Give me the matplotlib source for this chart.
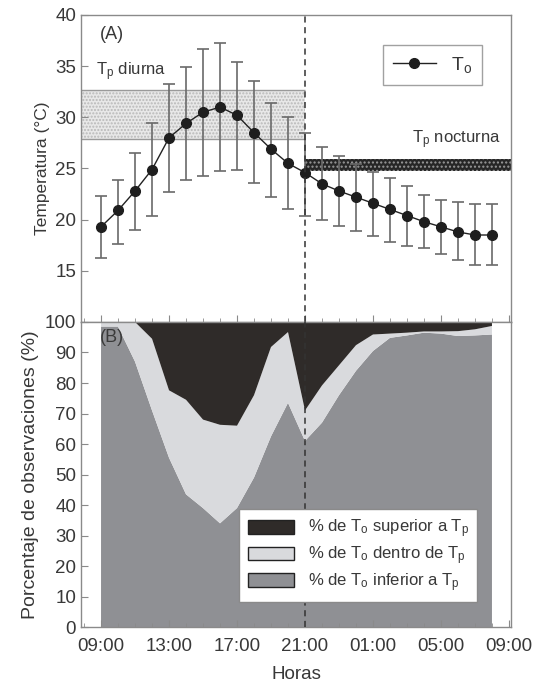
import matplotlib
matplotlib.use("Agg")
import matplotlib.pyplot as plt
from matplotlib.patches import Patch
from matplotlib.ticker import MultipleLocator
import numpy as np

plt.rcParams['font.family'] = ['Liberation Sans', 'DejaVu Sans']
plt.rcParams['mathtext.default'] = 'regular'

# hours from 09:00 to 08:00 next day
hours = list(range(9, 33))
tick_hours = [9, 13, 17, 21, 25, 29, 33]
tick_labels = ["09:00", "13:00", "17:00", "21:00", "01:00", "05:00", "09:00"]

# (A) observed temperature, with upper/lower ends of error bars
temp = [19.3, 20.9, 22.8, 24.9, 28.0, 29.4, 30.5, 31.0, 30.2, 28.5, 26.9, 25.5, 24.6,
        23.5, 22.8, 22.2, 21.6, 21.0, 20.4, 19.8, 19.3, 18.8, 18.5, 18.5]
temp_hi = [22.3, 23.9, 26.5, 29.4, 33.3, 34.9, 36.7, 37.3, 35.4, 33.5, 31.4, 30.0, 28.5,
           27.1, 26.2, 25.4, 24.7, 24.1, 23.3, 22.4, 21.9, 21.7, 21.5, 21.5]
temp_lo = [16.3, 17.6, 19.0, 20.4, 22.7, 23.9, 24.3, 24.8, 24.9, 23.6, 22.2, 21.0, 20.4,
           20.0, 19.4, 18.9, 18.4, 17.8, 17.4, 17.2, 16.6, 16.1, 15.6, 15.6]
tp_diurna = (27.9, 32.7)
tp_nocturna = (24.8, 25.9)
split_hour = 21

# (B) percentages
inferior = [98.5, 98.5, 87, 71, 55.5, 43.5, 39, 34, 39, 49, 62.5, 73.5, 61,
            67, 76, 84, 90.5, 94.8, 95.6, 96.5, 96.2, 95.4, 95.6, 95.9]
dentro = [1.5, 1.5, 13, 23.5, 22.1, 31, 29, 32.3, 27, 27, 29.3, 23.2, 10,
          12.2, 9.8, 8.4, 5.4, 1.4, 0.9, 0.4, 0.7, 1.6, 2.0, 2.8]
superior = [0, 0, 0, 5.5, 22.4, 25.5, 32, 33.7, 34, 24, 8.2, 3.3, 29,
            20.8, 14.2, 7.6, 4.1, 3.8, 3.5, 3.1, 3.1, 3.0, 2.4, 1.3]

spine_c = '#8a8a8a'
text_c = '#383838'
c_sup = '#2f2b29'
c_den = '#d9dadd'
c_inf = '#8f9094'

fig = plt.figure(figsize=(5.42, 6.87), dpi=100)
ax1 = fig.add_axes([0.1494, 0.5313, 0.7934, 0.4469])
ax2 = fig.add_axes([0.1494, 0.0873, 0.7934, 0.4440])
xlim = (7.82, 33.12)

for ax in (ax1, ax2):
    ax.set_xlim(xlim)
    ax.set_xticks(tick_hours)
    ax.xaxis.set_minor_locator(MultipleLocator(1))
    ax.tick_params(which='both', direction='in', colors=spine_c, labelcolor=text_c,
                   labelsize=13.5, top=False, right=False)
    ax.tick_params(which='major', length=5)
    ax.tick_params(which='minor', length=3)
    for s in ax.spines.values():
        s.set_color(spine_c)
        s.set_linewidth(1.0)

# ---- panel A
ax1.set_ylim(10, 40)
ax1.set_yticks([15, 20, 25, 30, 35, 40])
ax1.set_xticklabels([])
ax1.fill_between([xlim[0], split_hour], tp_diurna[0], tp_diurna[1],
                 facecolor='#e8e8e8', edgecolor='#b8b8b8', hatch='.....', linewidth=0)
ax1.hlines(tp_diurna, xlim[0], split_hour, colors='#9a9a9a', linewidth=1.0)
ax1.fill_between([split_hour, xlim[1]], tp_nocturna[0], tp_nocturna[1],
                 facecolor='#262626', edgecolor='#9a9a9a', hatch='....', linewidth=0)

t = np.array(temp)
yerr = [t - np.array(temp_lo), np.array(temp_hi) - t]
ax1.errorbar(hours, temp, yerr=yerr, fmt='none', ecolor='#6a6a6a', elinewidth=1.2,
             capsize=4, capthick=1.2, zorder=3)
ax1.plot(hours, temp, '-o', color='#222222', lw=1.0, markersize=7,
         markerfacecolor='#1e1e1e', markeredgecolor='#1e1e1e', zorder=4,
         label=r'T$_{o}$')
ax1.axvline(split_hour, color='#333333', lw=1.1, dashes=(4, 3), zorder=5)
ax1.set_ylabel('Temperatura (°C)', fontsize=12.5, color=text_c)
ax1.text(0.045, 0.935, '(A)', transform=ax1.transAxes, fontsize=13, color=text_c,
         va='center')
ax1.text(0.035, 0.815, r'T$_{p}$ diurna', transform=ax1.transAxes, fontsize=12,
         color=text_c, va='center')
ax1.text(0.77, 0.595, r'T$_{p}$ nocturna', transform=ax1.transAxes, fontsize=12,
         color=text_c, va='center')
leg1 = ax1.legend(loc='upper right', bbox_to_anchor=(0.933, 0.902), fontsize=14,
                  fancybox=False, edgecolor=spine_c, handlelength=2.2,
                  borderpad=0.5, borderaxespad=0, labelcolor=text_c)
leg1.get_frame().set_linewidth(1.0)

# ---- panel B
ax2.set_ylim(0, 100)
ax2.set_yticks(range(0, 101, 10))
ax2.set_xticklabels(tick_labels)
ax2.tick_params(axis='x', pad=8)
ax2.stackplot(hours, inferior, dentro, superior, colors=[c_inf, c_den, c_sup],
              linewidth=0)
ax2.axvline(split_hour, color='#333333', lw=1.1, dashes=(4, 3), zorder=5)
ax2.set_ylabel('Porcentaje de observaciones (%)', fontsize=14, color=text_c)
ax2.set_xlabel('Horas', fontsize=13.5, color=text_c, labelpad=8)
ax2.text(0.045, 0.95, '(B)', transform=ax2.transAxes, fontsize=13, color='#3a3a3a',
         va='center')
handles = [Patch(facecolor=c_sup, edgecolor='#222222'),
           Patch(facecolor=c_den, edgecolor='#222222'),
           Patch(facecolor=c_inf, edgecolor='#222222')]
labels = [r'% de T$_{o}$ superior a T$_{p}$',
          r'% de T$_{o}$ dentro de T$_{p}$',
          r'% de T$_{o}$ inferior a T$_{p}$']
leg2 = ax2.legend(handles, labels, loc='lower right', bbox_to_anchor=(0.921, 0.082),
                  fontsize=12, fancybox=False, edgecolor=spine_c, framealpha=1,
                  handlelength=2.8, handleheight=0.9, labelspacing=0.25,
                  labelcolor=text_c, borderpad=0.5, borderaxespad=0)
leg2.get_frame().set_linewidth(1.0)
leg2.set_zorder(6)

fig.savefig('out.png', dpi=100)
